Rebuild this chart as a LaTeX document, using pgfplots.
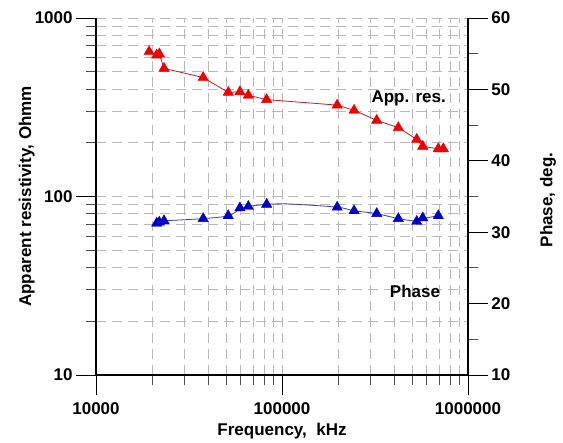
\documentclass[border=0pt]{standalone}
\usepackage{pgfplots}
\pgfplotsset{compat=1.18}
\usepackage{fontspec}
\setmainfont{Liberation Sans}
\definecolor{redm}{RGB}{238,0,0}
\definecolor{redl}{RGB}{190,30,30}
\definecolor{bluem}{RGB}{0,0,200}
\definecolor{bluel}{RGB}{60,60,170}
\definecolor{gridc}{RGB}{185,185,185}
\newcommand{\bigf}{\fontsize{17}{20}\selectfont\bfseries}
\begin{document}
\begin{tikzpicture}
\begin{axis}[
  name=main,
  scale only axis, width=372pt, height=357pt,
  xmode=log, ymode=log,
  xmin=1e4, xmax=1e6, ymin=10, ymax=1000,
  axis x line*=bottom, axis y line*=left,
  axis line style={black, line width=1.2pt},
  xtick={1e4,1e5,1e6}, xticklabels={10000,100000,1000000},
  ytick={10,100,1000}, yticklabels={10,100,1000},
  grid=both,
  major grid style={gridc, line width=0.8pt, dash pattern=on 10pt off 6pt},
  minor grid style={gridc, line width=0.8pt, dash pattern=on 10pt off 6pt},
  tick align=outside,
  major tick length=20pt, minor tick length=10pt,
  every tick/.style={black, line width=0.9pt},
  minor tick style={black!70, line width=0.8pt},
  ticklabel style={font=\bigf},
  xticklabel style={anchor=center, yshift=-14pt},
  yticklabel style={anchor=east, xshift=0pt},
  xlabel={Frequency,\ \ kHz},
  ylabel={Apparent resistivity, Ohmm},
  label style={font=\bigf},
  xlabel style={at={(axis description cs:0.5,-0.157)}, anchor=center},
  ylabel style={at={(axis description cs:-0.186,0.5)}, anchor=center},
  clip=false,
]
% resistivity line
\addplot[redl, line width=0.8pt] coordinates {
 (21900,629) (23200,522) (37700,464) (51400,383) (59400,386) (65900,369)
 (82700,349) (198000,325) (244000,304) (323000,267) (422000,243)
 (530000,209) (571000,191) (692000,185) (737000,185)
};
\addplot[only marks, mark=triangle*, mark size=6pt, mark options={fill=redm, draw=redm}] coordinates {
 (19300,647) (21200,620) (21900,629) (23200,522) (37700,464) (51400,383)
 (59400,386) (65900,369) (82700,349) (198000,325) (244000,304)
 (323000,267) (422000,243) (530000,209) (571000,191) (692000,185) (737000,185)
};
\node[font=\bigf] at (axis cs:480000,354) {App. res.};
\node[font=\bigf] at (axis cs:519000,29.2) {Phase};
\end{axis}
\begin{axis}[
  scale only axis, width=372pt, height=357pt,
  xmode=log, xmin=1e4, xmax=1e6, ymin=10, ymax=60,
  axis x line=none, axis y line*=right,
  axis line style={black, line width=1.2pt},
  ytick={10,20,30,40,50,60},
  minor ytick={15,25,35,45,55},
  tick align=outside,
  major tick length=20pt, minor tick length=10pt,
  every tick/.style={black, line width=0.9pt},
  minor tick style={black!70, line width=0.8pt},
  ticklabel style={font=\bigf},
  yticklabel style={anchor=west},
  /pgf/number format/assume math mode=true,
  ylabel={Phase, deg.},
  ylabel style={font=\bigf, at={(axis description cs:1.215,0.49)}, anchor=center},
  clip=false,
]
\addplot[bluel, line width=0.8pt, smooth, tension=0.5] coordinates {
 (23200,31.6) (37700,31.9) (51400,32.3) (59400,33.2) (65900,33.6) (82700,33.9)
 (110000,33.95) (198000,33.5) (244000,33.0) (323000,32.6) (422000,31.9)
 (530000,31.55) (571000,31.9) (692000,32.3)
};
\addplot[only marks, mark=triangle*, mark size=6pt, mark options={fill=bluem, draw=bluem}] coordinates {
 (21200,31.25) (21900,31.4) (23200,31.6) (37700,31.9) (51400,32.3)
 (59400,33.4) (65900,33.6) (82700,33.9) (198000,33.5) (244000,33.0)
 (323000,32.6) (422000,31.9) (530000,31.5) (571000,32.0) (692000,32.3)
};
\end{axis}
\pgfresetboundingbox
\path (main.south west) ++(-96pt,-68pt) rectangle ++(563pt,443pt);
\end{tikzpicture}
\end{document}
